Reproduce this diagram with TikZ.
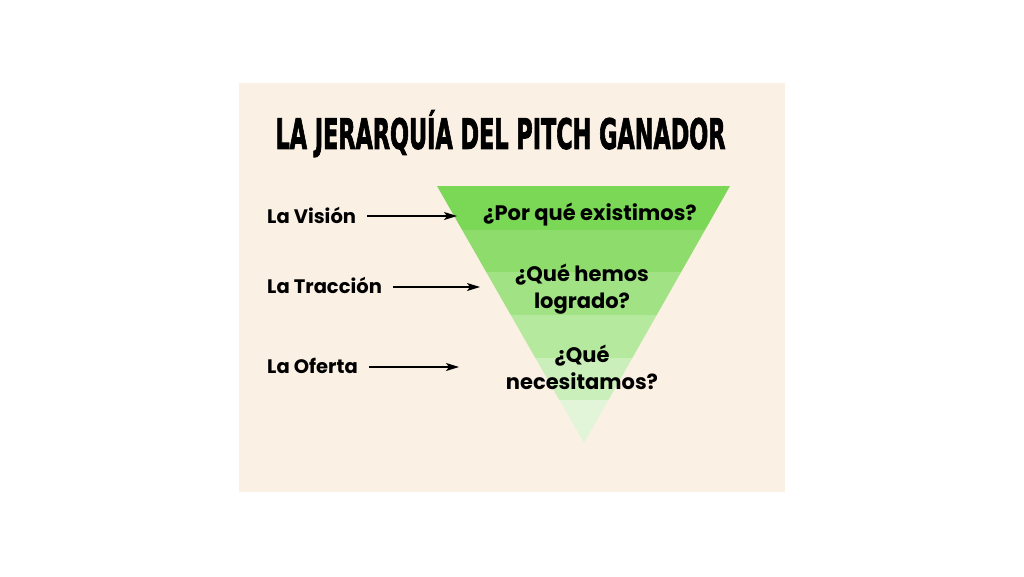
\documentclass[tikz,border=0pt]{standalone}
\usepackage{fontspec}
\setmainfont{Poppins}
\newfontfamily\titlefont[FakeBold=2.5]{DejaVu Sans}
\usetikzlibrary{arrows.meta}
\definecolor{beige}{HTML}{FAF0E3}
\definecolor{gA}{HTML}{7BD756}
\definecolor{gB}{HTML}{8DDC6C}
\definecolor{gC}{HTML}{A0E284}
\definecolor{gD}{HTML}{B4E99E}
\definecolor{gE}{HTML}{CAEFBA}
\definecolor{gF}{HTML}{E3F5D9}
\tikzset{
  lbl/.style={anchor=west, inner sep=0pt, font=\bfseries\fontsize{19.5}{22}\selectfont},
  qtxt/.style={align=center, inner sep=0pt, font=\bfseries\fontsize{21}{27}\selectfont},
  arr/.style={-{Stealth[length=13pt,width=8pt,inset=3pt]}, line width=1.4pt, black}
}
\begin{document}
\begin{tikzpicture}[x=1pt,y=-1pt]
\useasboundingbox (0,0) rectangle (1024,576);
\fill[white] (0,0) rectangle (1024,576);
\fill[beige] (238.5,82.7) rectangle (785,492);
\node[inner sep=0pt] (title) at (500.5,137.5) {\resizebox{450pt}{31pt}{\titlefont\bfseries LA JERARQU\smash{Í}A DEL PITCH GANADOR}};
\begin{scope}
\clip (437,186) -- (730,186) -- (584,443) -- cycle;
\fill[gA] (430,186) rectangle (740,229.5);
\fill[gB] (430,229.5) rectangle (740,272);
\fill[gC] (430,272) rectangle (740,315);
\fill[gD] (430,315) rectangle (740,357.5);
\fill[gE] (430,357.5) rectangle (740,400);
\fill[gF] (430,400) rectangle (740,445);
\end{scope}
\node[qtxt] (q1) at (590,215) {¿Por qué existimos?};
\node[qtxt] (q2) at (582,289) {¿Qué hemos\\logrado?};
\node[qtxt] (q3) at (582,367) {¿Qué\\necesitamos?};
\node[lbl] (l1) at (267,215) {La Visión};
\node[lbl] (l2) at (267,285) {La Tracción};
\node[lbl] (l3) at (267,366) {La Oferta};
\coordinate (e1) at (457,216);
\coordinate (e2) at (480,287);
\coordinate (e3) at (459,367);
\draw[arr] ([xshift=11pt]l1.east |- e1) -- (e1);
\draw[arr] ([xshift=11pt]l2.east |- e2) -- (e2);
\draw[arr] ([xshift=11pt]l3.east |- e3) -- (e3);
\end{tikzpicture}
\end{document}
